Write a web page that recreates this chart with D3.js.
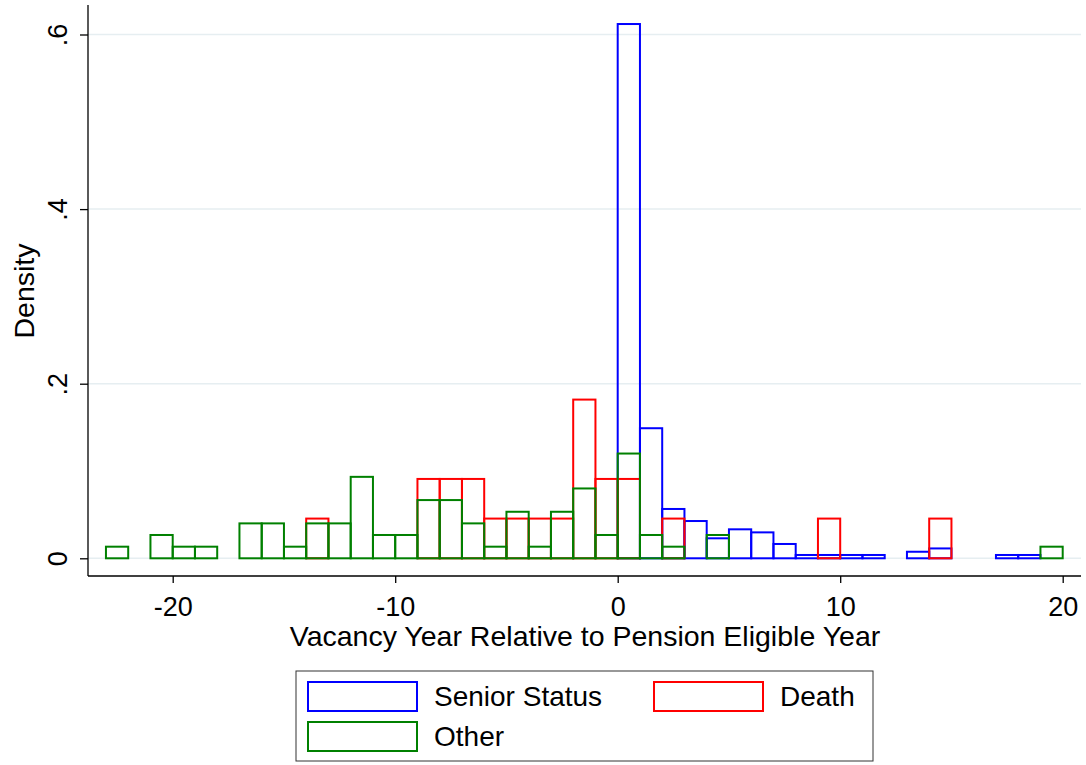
<!DOCTYPE html>
<html>
<head>
<meta charset="utf-8">
<script src="https://cdn.jsdelivr.net/npm/d3@7"></script>
<style>
  body { margin: 0; background: #fff; }
  text { font-family: "Liberation Sans", Arial, sans-serif; fill: #000; }
</style>
</head>
<body>
<div class="chart"></div>
<script>
// histogram bins are width 1, value = left edge of the bin
// densities
const seniorBins = [0, 1, 2, 3, 4, 5, 6, 7, 8, 9, 10, 11, 13, 14, 17, 18];
const seniorDensity = [0.612, 0.149, 0.0565, 0.0427, 0.0229, 0.0332, 0.0297, 0.0164,
                       0.0038, 0.0038, 0.0038, 0.0038, 0.0075, 0.0113, 0.0038, 0.0038];

const deathBins = [-14, -9, -8, -7, -6, -5, -4, -3, -2, -1, 0, 2, 9, 14];
const deathDensity = [0.0455, 0.0909, 0.0909, 0.0909, 0.0455, 0.0455, 0.0455, 0.0455,
                      0.1818, 0.0909, 0.0909, 0.0455, 0.0455, 0.0455];

const otherBins = [-23, -21, -20, -19, -17, -16, -15, -14, -13, -12, -11, -10, -9, -8,
                   -7, -6, -5, -4, -3, -2, -1, 0, 1, 2, 4, 19];
const otherDensity = [0.0133, 0.0267, 0.0133, 0.0133, 0.04, 0.04, 0.0133, 0.04, 0.04,
                      0.0933, 0.0267, 0.0267, 0.0667, 0.0667, 0.04, 0.0133, 0.0533,
                      0.0133, 0.0533, 0.08, 0.0267, 0.12, 0.0267, 0.0133, 0.0267, 0.0133];

const xTicks = [-20, -10, 0, 10, 20];
const yTicks = [0, 0.2, 0.4, 0.6];
const yTickLabels = ['0', '.2', '.4', '.6'];

const seriesNames = ['Senior Status', 'Death', 'Other'];
const seriesColors = ['#0000ff', '#ff0000', '#008000'];

const svg_width = 1086;
const svg_height = 765;

const svg = d3.select('.chart').append('svg')
  .attr('width', svg_width).attr('height', svg_height);

// scales
const xScale = d3.scaleLinear([0, 20], [617.7, 1062.7]);
const yScale = d3.scaleLinear([0, 0.6], [558.3, 34.5]);

const plotLeft = 88, plotRight = 1081, plotTop = 5, plotBottom = 576;

// grid
svg.append('g').selectAll('line').data(yTicks).join('line')
  .attr('x1', plotLeft).attr('x2', plotRight)
  .attr('y1', d => yScale(d)).attr('y2', d => yScale(d))
  .style('stroke', '#e6eef1').style('stroke-width', 1.5);

// bars: blue first, then red, then green on top
const series = [
  {bins: seniorBins, dens: seniorDensity},
  {bins: deathBins, dens: deathDensity},
  {bins: otherBins, dens: otherDensity}
];
series.forEach((s, k) => {
  const data = s.bins.map((b, i) => ({x0: b, v: s.dens[i]}));
  svg.append('g').selectAll('rect').data(data).join('rect')
    .attr('x', d => xScale(d.x0))
    .attr('y', d => yScale(d.v))
    .attr('width', d => xScale(d.x0 + 1) - xScale(d.x0))
    .attr('height', d => yScale(0) - yScale(d.v))
    .style('fill', 'none')
    .style('stroke', seriesColors[k])
    .style('stroke-width', 2);
});

// axes
const xAxis = d3.axisBottom(xScale).tickValues(xTicks).tickSize(7).tickSizeOuter(0)
  .tickFormat(d => d);
const xAxisDraw = svg.append('g').attr('transform', `translate(0,${plotBottom})`).call(xAxis);
xAxisDraw.select('.domain').attr('d', `M${plotLeft},0H${plotRight}`).style('stroke', '#000').style('stroke-width', 1.3);
xAxisDraw.selectAll('.tick line').style('stroke', '#000').style('stroke-width', 1.3);
xAxisDraw.selectAll('.tick text').attr('y', 40).attr('dy', null).style('font-size', '27px')
  .style('font-family', '"Liberation Sans", Arial, sans-serif');

const yAxis = d3.axisLeft(yScale).tickValues(yTicks).tickSize(8).tickSizeOuter(0)
  .tickFormat((d, i) => yTickLabels[i]);
const yAxisDraw = svg.append('g').attr('transform', `translate(${plotLeft},0)`).call(yAxis);
yAxisDraw.select('.domain').attr('d', `M0,${plotTop}V${plotBottom}`).style('stroke', '#000').style('stroke-width', 1.3);
yAxisDraw.selectAll('.tick line').style('stroke', '#000').style('stroke-width', 1.3);
yAxisDraw.selectAll('.tick text')
  .attr('x', null).attr('dy', null)
  .attr('transform', 'translate(-21,0) rotate(-90)')
  .attr('text-anchor', 'middle')
  .style('font-size', '27px')
  .style('font-family', '"Liberation Sans", Arial, sans-serif');

// axis titles
svg.append('text').attr('x', 585).attr('y', 646).attr('text-anchor', 'middle')
  .style('font-size', '28.5px').text('Vacancy Year Relative to Pension Eligible Year');
svg.append('text').attr('transform', 'translate(33.5,291) rotate(-90)').attr('text-anchor', 'middle')
  .style('font-size', '28.5px').text('Density');

// legend
const legend = svg.append('g');
legend.append('rect').attr('x', 296).attr('y', 671).attr('width', 577).attr('height', 90)
  .style('fill', '#fff').style('stroke', '#333').style('stroke-width', 1);
const legendPos = [[308, 682], [654, 682], [308, 722]];
seriesNames.forEach((name, i) => {
  const [lx, ly] = legendPos[i];
  legend.append('rect').attr('x', lx).attr('y', ly).attr('width', 109).attr('height', 29)
    .style('fill', 'none').style('stroke', seriesColors[i]).style('stroke-width', 2);
  legend.append('text').attr('x', lx + 126).attr('y', ly + 24)
    .style('font-size', '28px').text(name);
});
</script>
</body>
</html>
